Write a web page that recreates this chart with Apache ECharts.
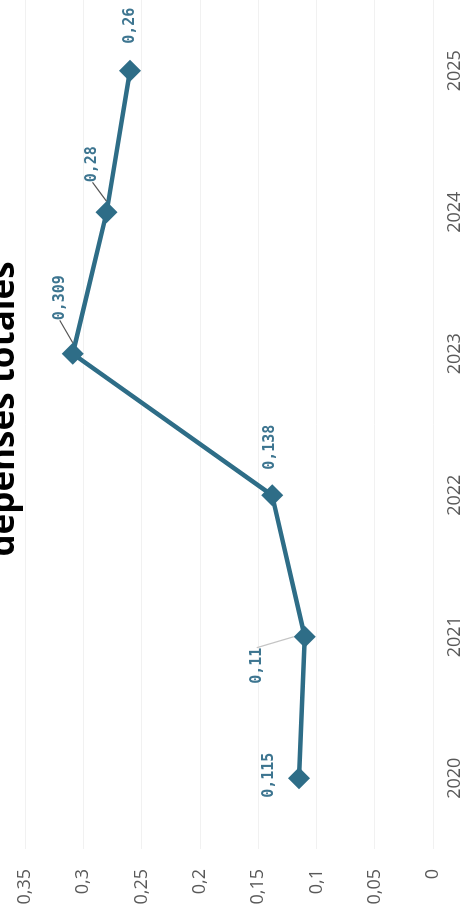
<!DOCTYPE html>
<html>
<head>
<meta charset="utf-8">
<script src="https://cdn.jsdelivr.net/npm/echarts@6/dist/echarts.min.js"></script>
<style>
html,body{margin:0;padding:0;width:466px;height:920px;overflow:hidden;background:#fff;}
#main{position:absolute;left:0;top:0;width:920px;height:466px;transform-origin:0 0;transform:translate(0,920px) rotate(-90deg);}
</style>
</head>
<body>
<div id="main"></div>
<script>
// Data
const categories = ['2020', '2021', '2022', '2023', '2024', '2025'];
const values = [0.115, 0.11, 0.138, 0.309, 0.28, 0.26];
const valueTicks = [0, 0.05, 0.1, 0.15, 0.2, 0.25, 0.3, 0.35];
const titleText = 'dépenses totales';

// Label placement (offset of label centre from its point, px) and leader-line style
const labelOffsets = [[3, -30], [-29, -48], [48, -2], [56, -13], [48, -14], [45, 0]];
const leaderColors = [null, '#c4c4c4', null, '#555555', '#555555', null];

const frFmt = v => String(v).replace('.', ',');
const lineColor = '#2e6d87';
const labelColor = '#3d7590';

const chart = echarts.init(document.getElementById('main'), null, {renderer: 'canvas', width: 920, height: 466});

chart.setOption({
  animation: false,
  backgroundColor: '#ffffff',
  grid: {left: 71, right: -3, top: 25, bottom: 33, containLabel: false},
  graphic: [{
    type: 'text',
    x: 511, y: 4,
    style: {
      text: titleText,
      font: 'bold 35px "Open Sans", sans-serif',
      fill: '#000000',
      textAlign: 'center',
      textVerticalAlign: 'middle'
    }
  }],
  xAxis: {
    type: 'category',
    data: categories,
    boundaryGap: true,
    axisLine: {show: false},
    axisTick: {show: false},
    splitLine: {show: false},
    axisLabel: {color: '#595959', fontSize: 18, fontFamily: '"Open Sans", sans-serif', margin: 13}
  },
  yAxis: {
    type: 'value',
    min: valueTicks[0],
    max: valueTicks[valueTicks.length - 1],
    interval: 0.05,
    axisLine: {show: false},
    axisTick: {show: false},
    splitLine: {show: true, lineStyle: {color: '#f1f1f1', width: 1}},
    axisLabel: {
      color: '#595959', fontSize: 18, fontFamily: '"Open Sans", sans-serif', margin: 20,
      formatter: v => frFmt(+v.toFixed(2))
    }
  },
  series: [{
    type: 'line',
    data: values.map((v, i) => leaderColors[i]
      ? {value: v, labelLine: {show: true, smooth: 0.4, lineStyle: {color: leaderColors[i], width: 1.2}}}
      : {value: v}),
    symbol: 'diamond',
    symbolSize: 22,
    lineStyle: {color: lineColor, width: 4.5},
    itemStyle: {color: lineColor},
    label: {
      show: true,
      position: 'inside',
      color: labelColor,
      fontWeight: 'bold',
      fontSize: 15,
      fontFamily: '"DejaVu Sans Mono", monospace',
      formatter: p => frFmt(p.value)
    },
    labelLine: {show: false},
    labelLayout: p => ({dx: labelOffsets[p.dataIndex][0], dy: labelOffsets[p.dataIndex][1]})
  }]
});
</script>
</body>
</html>
